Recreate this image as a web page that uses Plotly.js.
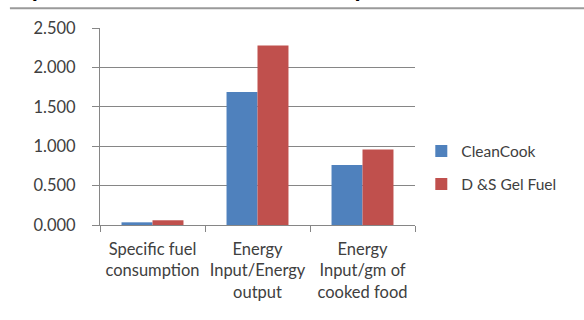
<!DOCTYPE html>
<html>
<head>
<meta charset="utf-8">
<script src="https://cdn.plot.ly/plotly-3.0.1.min.js"></script>
<style>html,body{margin:0;padding:0;background:#fff;}#chart{width:584px;height:320px;}</style>
</head>
<body>
<div id="chart"></div>
<script>
const categories = [
  "Specific fuel<br>consumption",
  "Energy<br>Input/Energy<br>output",
  "Energy<br>Input/gm of<br>cooked food"
];
const seriesNames = ["CleanCook", "D &S Gel Fuel"];
const cleanCook = [0.034, 1.688, 0.760];
const gelFuel = [0.060, 2.277, 0.958];
const yTicks = [0, 0.5, 1.0, 1.5, 2.0, 2.5];
const titleText = "Specific fuel values of each sample";

const font = "Lato, 'Open Sans', sans-serif";
const traces = [
  {type: "bar", name: seriesNames[0], x: categories, y: cleanCook, legendgroup: "a",
   marker: {color: "#4F81BD"}, hoverinfo: "skip"},
  {type: "bar", name: seriesNames[1], x: categories, y: gelFuel, legendgroup: "b",
   marker: {color: "#C0504D"}, hoverinfo: "skip"}
];
const layout = {
  width: 584, height: 320,
  margin: {l: 100, r: 169, t: 28, b: 95},
  paper_bgcolor: "#fff", plot_bgcolor: "#fff",
  showlegend: true,
  barmode: "group", bargap: 0.41, bargroupgap: 0,
  font: {family: font, size: 15, color: "#404040"},
  xaxis: {
    type: "category", tickson: "boundaries", ticks: "outside", ticklen: 6,
    tickcolor: "#868686", showline: true, linecolor: "#868686", linewidth: 1,
    showgrid: false, zeroline: false, tickfont: {size: 16.5, color: "#404040"},
    tickangle: 0, ticklabelstandoff: 9, fixedrange: true
  },
  yaxis: {
    range: [0, 2.5], tickvals: yTicks, tickformat: ".3f",
    ticks: "outside", ticklen: 7, tickcolor: "#868686",
    showline: true, linecolor: "#868686", linewidth: 1,
    showgrid: true, gridcolor: "#868686", gridwidth: 1, zeroline: false,
    tickfont: {size: 16.5, color: "#404040"}, ticklabelstandoff: 13, fixedrange: true
  },
  legend: {
    x: 1.02, xanchor: "left", y: 0.29, yanchor: "middle",
    traceorder: "grouped", tracegroupgap: 10,
    font: {size: 15.5, color: "#404040"}, bgcolor: "rgba(0,0,0,0)"
  },
  shapes: [
    {type: "line", xref: "paper", yref: "paper", x0: -0.286, x1: 1.54, y0: 1.1, y1: 1.1,
     line: {color: "#9a9a9a", width: 2}}
  ],
  annotations: [
    {xref: "paper", yref: "paper", x: -0.27, xanchor: "left", y: 1.126, yanchor: "bottom",
     text: "<b>" + titleText + "</b>", showarrow: false,
     font: {family: "Liberation Sans, Arial, sans-serif", size: 22, color: "#000"}}
  ]
};
Plotly.newPlot("chart", traces, layout, {displayModeBar: false, staticPlot: true});
</script>
</body>
</html>
